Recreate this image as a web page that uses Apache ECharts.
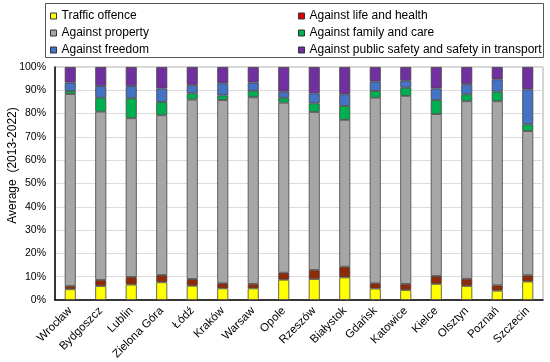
<!DOCTYPE html>
<html>
<head>
<meta charset="utf-8">
<script src="https://cdn.jsdelivr.net/npm/echarts@6/dist/echarts.min.js"></script>
<style>html,body{margin:0;padding:0;background:#fff}#c{width:550px;height:362px}</style>
</head>
<body>
<div id="c"></div>
<script>
const cities = ['Wrocław','Bydgoszcz','Lublin','Zielona Góra','Łódź','Kraków','Warsaw','Opole','Rzeszów','Białystok','Gdańsk','Katowice','Kielce','Olsztyn','Poznań','Szczecin'];
const traffic  = [4.6, 6.0, 6.6, 7.6, 6.1, 5.0, 5.0, 8.7, 9.0, 9.7, 4.9, 4.3, 6.9, 6.0, 4.0, 7.9];
const life     = [1.4, 2.6, 3.3, 3.1, 2.9, 2.2, 1.9, 3.0, 3.9, 4.6, 2.3, 2.6, 3.4, 3.1, 2.3, 2.7];
const property = [82.4, 72.2, 68.1, 68.6, 77.0, 78.6, 80.1, 73.0, 67.8, 63.0, 79.6, 80.7, 69.5, 76.2, 79.0, 61.9];
const family   = [1.3, 6.0, 8.6, 5.7, 2.7, 2.0, 2.8, 2.1, 3.7, 6.0, 2.9, 3.5, 6.0, 3.0, 4.1, 2.9];
const freedom  = [3.6, 5.0, 5.2, 5.8, 3.6, 5.2, 3.5, 2.6, 4.3, 5.0, 4.0, 3.0, 5.0, 4.3, 5.3, 15.0];
const publicSafety = [6.7, 8.2, 8.2, 9.2, 7.7, 7.0, 6.7, 10.6, 11.3, 11.7, 6.3, 5.9, 9.2, 7.4, 5.3, 9.6];
const yTicks = [0, 10, 20, 30, 40, 50, 60, 70, 80, 90, 100];

const names = ['Traffic offence','Against life and health','Against property','Against family and care','Against freedom','Against public safety and safety in transport'];
const values = [traffic, life, property, family, freedom, publicSafety];
const barColors = ['#FFFF00','#8E2A06','#A6A6A6','#00B050','#4472C4','#7030A0'];
const legendColors = ['#FFFF00','#E00000','#A6A6A6','#00B050','#4472C4','#7030A0'];

const font = '"Liberation Sans", Arial, sans-serif';

function legendItems(idx){
  return idx.map(i => ({name: names[i], itemStyle: {color: legendColors[i], borderColor: '#333', borderWidth: 1}}));
}
const legendBase = {
  orient: 'vertical', top: 9, padding: 0, itemGap: 3,
  itemWidth: 6, itemHeight: 6, icon: 'rect',
  textStyle: {fontFamily: font, fontSize: 12, color: '#000', lineHeight: 14},
  selectedMode: false
};

const chart = echarts.init(document.getElementById('c'), null, {renderer: 'canvas'});
chart.setOption({
  animation: false,
  backgroundColor: '#fff',
  graphic: [{type: 'rect', shape: {x: 45.5, y: 3.5, width: 498, height: 54}, style: {fill: 'none', stroke: '#555', lineWidth: 1}, silent: true}],
  legend: [
    Object.assign({}, legendBase, {left: 50, data: legendItems([0,2,4])}),
    Object.assign({}, legendBase, {left: 298, data: legendItems([1,3,5])})
  ],
  grid: {left: 55, right: 7, top: 67, bottom: 62, show: true, borderColor: '#aaa', borderWidth: 1, containLabel: false, outerBoundsMode: 'none'},
  xAxis: {
    type: 'category', data: cities,
    axisLine: {lineStyle: {color: '#000', width: 1.5}},
    axisTick: {show: false},
    axisLabel: {rotate: 45, interval: 0, fontFamily: font, fontSize: 11.5, color: '#000', margin: 9}
  },
  yAxis: {
    type: 'value', min: 0, max: 100, interval: 10,
    name: 'Average  (2013-2022)', nameLocation: 'middle', nameGap: 36, nameMoveOverlap: false,
    nameTextStyle: {fontFamily: font, fontSize: 12, color: '#000', padding: [0, 0, 0, 36]},
    axisLine: {show: true, lineStyle: {color: '#000', width: 1.5}},
    axisTick: {show: false},
    axisLabel: {fontFamily: font, fontSize: 10.5, color: '#000', margin: 9, formatter: v => yTicks.includes(v) ? v + '%' : ''},
    splitLine: {lineStyle: {color: '#dcdcdc', width: 1}}
  },
  series: names.map((n, i) => ({
    name: n, type: 'bar', stack: 'all', barWidth: 11,
    data: values[i],
    itemStyle: {color: barColors[i], borderColor: '#444', borderWidth: 0.8}
  }))
});
</script>
</body>
</html>
